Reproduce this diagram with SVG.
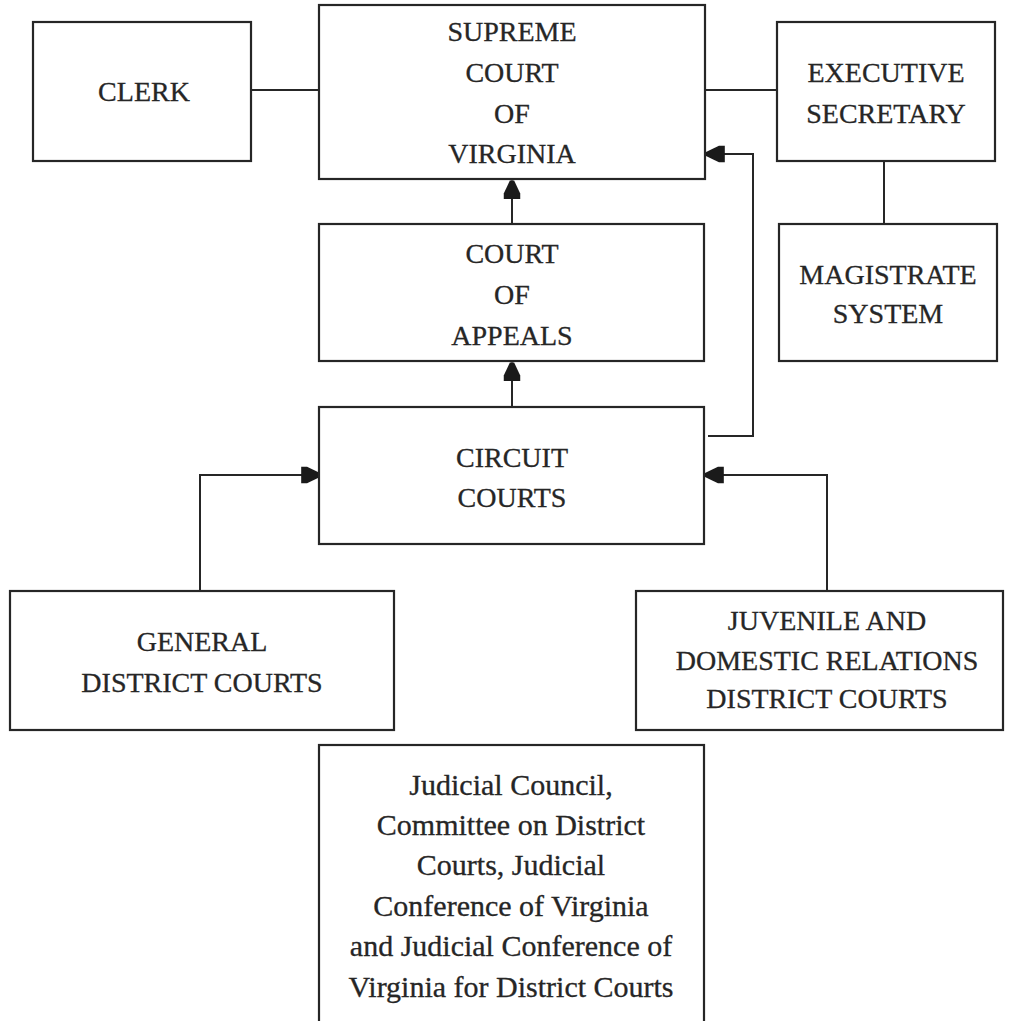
<svg xmlns="http://www.w3.org/2000/svg" width="1011" height="1021" viewBox="0 0 1011 1021">
  <style>
    .box { fill: #ffffff; stroke: #262626; stroke-width: 2.2; }
    .t { font-family: "Liberation Serif", "Times New Roman", serif; font-size: 28px; fill: #262626; stroke: #262626; stroke-width: 0.3; text-anchor: middle; }
    .s { font-family: "Liberation Serif", "Times New Roman", serif; font-size: 30px; fill: #262626; stroke: #262626; stroke-width: 0.3; text-anchor: middle; }
    .c { fill: none; stroke: #262626; stroke-width: 2; }
  </style>
  <defs>
    <marker id="arr" markerUnits="userSpaceOnUse" markerWidth="20" markerHeight="20" viewBox="0 -8 17 16" refX="16" refY="0" orient="auto">
      <path d="M0,-7 L5,-7 L16,-1.8 L16,1.8 L5,7 L0,7 Z" fill="#1a1a1a"/>
    </marker>
  </defs>
  <rect width="1011" height="1021" fill="#ffffff"/>

  <g id="connectors">
    <line class="c" x1="251" y1="90" x2="320" y2="90"/>
    <line class="c" x1="705" y1="90" x2="777" y2="90"/>
    <line class="c" x1="884" y1="161" x2="884" y2="224"/>
    <line class="c" x1="512" y1="224" x2="512" y2="180.5" marker-end="url(#arr)"/>
    <line class="c" x1="512" y1="407" x2="512" y2="362.5" marker-end="url(#arr)"/>
    <polyline class="c" points="708,436 753,436 753,154 706,154" marker-end="url(#arr)"/>
    <polyline class="c" points="200,591 200,475 320,475" marker-end="url(#arr)"/>
    <polyline class="c" points="827,591 827,475 705,475" marker-end="url(#arr)"/>
  </g>

  <g id="clerk">
    <rect class="box" x="33" y="22" width="218" height="139"/>
    <text class="t" x="144" y="101">CLERK</text>
  </g>

  <g id="supreme-court">
    <rect class="box" x="319" y="5" width="386" height="174"/>
    <text class="t" x="512" y="41">SUPREME</text>
    <text class="t" x="512" y="82">COURT</text>
    <text class="t" x="512" y="123">OF</text>
    <text class="t" x="512" y="163">VIRGINIA</text>
  </g>

  <g id="executive-secretary">
    <rect class="box" x="777" y="22" width="218" height="139"/>
    <text class="t" x="886" y="82">EXECUTIVE</text>
    <text class="t" x="886" y="123">SECRETARY</text>
  </g>

  <g id="magistrate-system">
    <rect class="box" x="779" y="224" width="218" height="137"/>
    <text class="t" x="888" y="284">MAGISTRATE</text>
    <text class="t" x="888" y="323">SYSTEM</text>
  </g>

  <g id="court-of-appeals">
    <rect class="box" x="319" y="224" width="385" height="137"/>
    <text class="t" x="512" y="263">COURT</text>
    <text class="t" x="512" y="304">OF</text>
    <text class="t" x="512" y="345">APPEALS</text>
  </g>

  <g id="circuit-courts">
    <rect class="box" x="319" y="407" width="385" height="137"/>
    <text class="t" x="512" y="467">CIRCUIT</text>
    <text class="t" x="512" y="507">COURTS</text>
  </g>

  <g id="general-district-courts">
    <rect class="box" x="10" y="591" width="384" height="139"/>
    <text class="t" x="202" y="651">GENERAL</text>
    <text class="t" x="202" y="692">DISTRICT COURTS</text>
  </g>

  <g id="juvenile-domestic-relations">
    <rect class="box" x="636" y="591" width="367" height="139"/>
    <text class="t" x="827" y="630">JUVENILE AND</text>
    <text class="t" x="827" y="670">DOMESTIC RELATIONS</text>
    <text class="t" x="827" y="708">DISTRICT COURTS</text>
  </g>

  <g id="judicial-council">
    <rect class="box" x="319" y="745" width="385" height="300"/>
    <text class="s" x="511" y="795">Judicial Council,</text>
    <text class="s" x="511" y="835">Committee on District</text>
    <text class="s" x="511" y="875">Courts, Judicial</text>
    <text class="s" x="511" y="916">Conference of Virginia</text>
    <text class="s" x="511" y="956">and Judicial Conference of</text>
    <text class="s" x="511" y="997">Virginia for District Courts</text>
  </g>
</svg>
